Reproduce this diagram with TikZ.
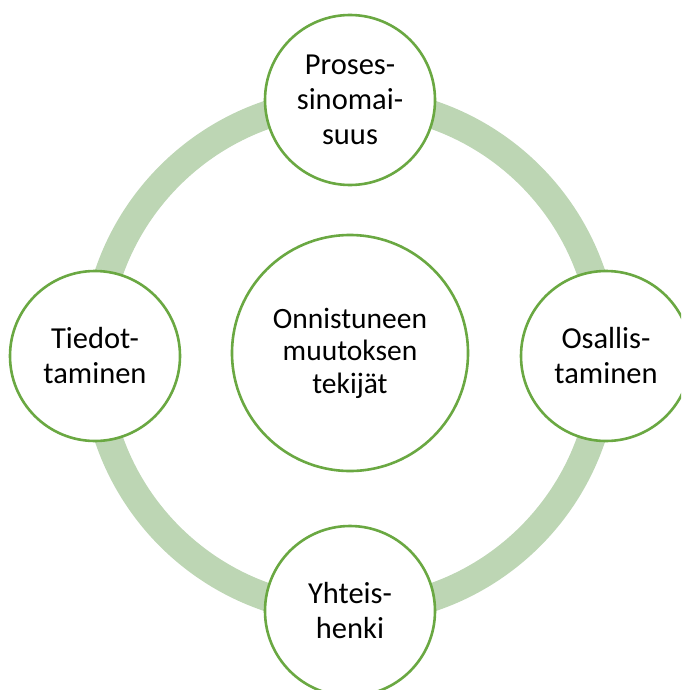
\documentclass[tikz,border=0pt]{standalone}
\usepackage{fontspec}
\setmainfont{Carlito}
\definecolor{ringgreen}{HTML}{BDD6B4}
\definecolor{edgegreen}{HTML}{6AA842}
\begin{document}
\begin{tikzpicture}[x=1pt,y=-1pt,
  ringband/.style={draw=ringgreen,line width=28pt},
  bubble/.style={circle,draw=edgegreen,line width=2.6pt,fill=white,
    minimum size=170pt,inner sep=0pt,align=center,
    font=\fontsize{30.5}{35}\selectfont},
  hub/.style={bubble,minimum size=236pt,font=\fontsize{29.5}{32.5}\selectfont}]
  \useasboundingbox (0,0) rectangle (681,690);
  \clip (0,0) rectangle (681,690);
  % ring behind the bubbles
  \coordinate (c) at (350,356);
  \draw[ringband] (c) circle[radius=255pt];
  % centre and four surrounding bubbles
  \node[hub] (hubnode) at (350,353) {Onnistuneen\\muutoksen\\tekijät};
  \node[bubble] (top) at (350,100) {Proses-\\sinomai-\\suus};
  \node[bubble] (right) at (606,356) {Osallis-\\taminen};
  \node[bubble] (bottom) at (350,611) {Yhteis-\\henki};
  \node[bubble] (left) at (95,356) {Tiedot-\\taminen};
\end{tikzpicture}
\end{document}
